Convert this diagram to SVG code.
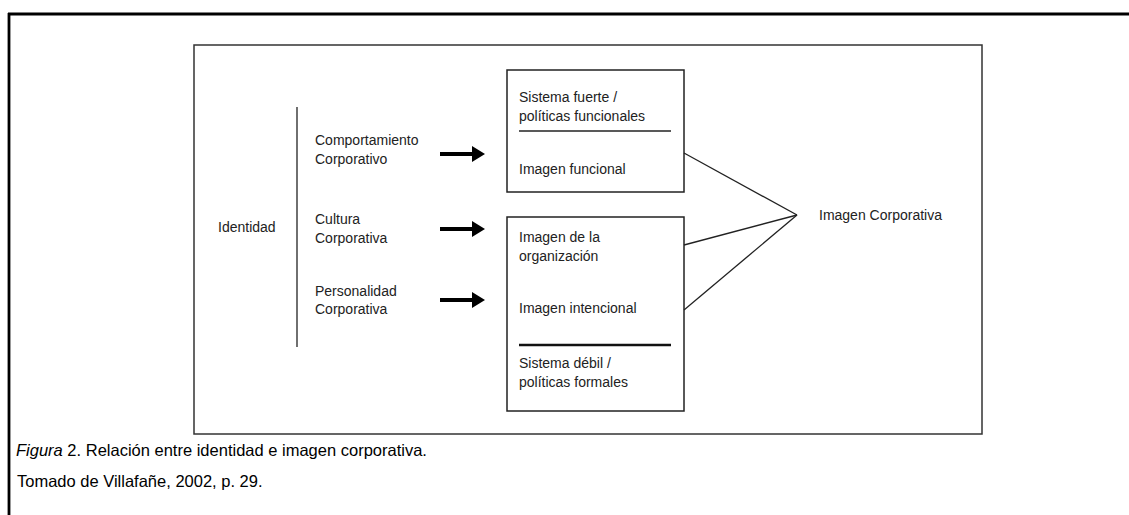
<svg xmlns="http://www.w3.org/2000/svg" width="1129" height="515" viewBox="0 0 1129 515">
<defs>
<style>
.t{font-family:"Liberation Sans",Arial,sans-serif;font-size:14px;fill:#222}
.cap{font-family:"Liberation Sans",Arial,sans-serif;font-size:16.5px;fill:#000}
.box{fill:none;stroke:#222;stroke-width:1.5}
.ln{fill:none;stroke:#222;stroke-width:1.3}
.arr{fill:none;stroke:#000;stroke-width:4}
</style>
<marker id="ah" markerUnits="userSpaceOnUse" markerWidth="14" markerHeight="16" refX="0" refY="8" orient="auto">
<path d="M0,0 L13,8 L0,16 Z" fill="#000"/>
</marker>
</defs>
<rect width="1129" height="515" fill="#fff"/>
<g id="frame">
<line x1="8" y1="14" x2="1129" y2="14" stroke="#000" stroke-width="2.8"/>
<line x1="9" y1="13" x2="9" y2="515" stroke="#000" stroke-width="2.8"/>
<rect x="194" y="45" width="788" height="389" fill="none" stroke="#333" stroke-width="1.5"/>
</g>
<g id="identidad">
<text class="t" x="218" y="232">Identidad</text>
<line class="ln" x1="297" y1="107" x2="297" y2="347"/>
</g>
<g id="comportamiento">
<text class="t" x="315" y="145">Comportamiento</text>
<text class="t" x="315" y="164">Corporativo</text>
</g>
<g id="cultura">
<text class="t" x="315" y="224">Cultura</text>
<text class="t" x="315" y="243">Corporativa</text>
</g>
<g id="personalidad">
<text class="t" x="315" y="296">Personalidad</text>
<text class="t" x="315" y="314">Corporativa</text>
</g>
<g id="box-funcional">
<rect class="box" x="507" y="70" width="177" height="122"/>
<text class="t" x="519" y="102">Sistema fuerte /</text>
<text class="t" x="519" y="121">políticas funcionales</text>
<line x1="519" y1="131" x2="671" y2="131" stroke="#222" stroke-width="1.3"/>
<text class="t" x="519" y="174">Imagen funcional</text>
</g>
<g id="box-intencional">
<rect class="box" x="507" y="217" width="177" height="194"/>
<text class="t" x="519" y="242">Imagen de la</text>
<text class="t" x="519" y="261">organización</text>
<text class="t" x="519" y="313">Imagen intencional</text>
<line x1="519" y1="345" x2="671" y2="345" stroke="#111" stroke-width="2.6"/>
<text class="t" x="519" y="368">Sistema débil /</text>
<text class="t" x="519" y="387">políticas formales</text>
</g>
<g id="imagen-corporativa">
<text class="t" x="819" y="220">Imagen Corporativa</text>
</g>
<g id="connectors">
<line class="arr" x1="440" y1="154" x2="472" y2="154" marker-end="url(#ah)"/>
<line class="arr" x1="440" y1="229" x2="472" y2="229" marker-end="url(#ah)"/>
<line class="arr" x1="440" y1="300" x2="472" y2="300" marker-end="url(#ah)"/>
<line class="ln" x1="684" y1="153" x2="797" y2="215"/>
<line class="ln" x1="684" y1="245" x2="797" y2="215"/>
<line class="ln" x1="684" y1="310" x2="797" y2="215"/>
</g>
<g id="caption">
<text class="cap" x="16" y="456"><tspan font-style="italic">Figura</tspan> 2. Relación entre identidad e imagen corporativa.</text>
<text class="cap" x="17" y="487">Tomado de Villafañe, 2002, p. 29.</text>
</g>
</svg>
